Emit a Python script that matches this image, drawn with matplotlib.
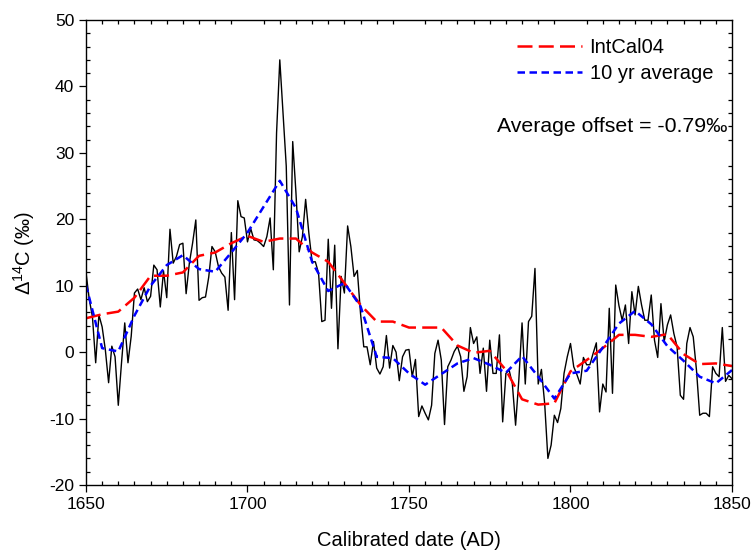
import numpy as np
import matplotlib
matplotlib.use('Agg')
import matplotlib.pyplot as plt
from matplotlib.ticker import MultipleLocator

plt.rcParams['font.family'] = ['Liberation Sans', 'DejaVu Sans']
plt.rcParams['mathtext.fontset'] = 'custom'
plt.rcParams['mathtext.rm'] = 'Liberation Sans'
plt.rcParams['mathtext.default'] = 'regular'
plt.rcParams['axes.unicode_minus'] = False

# annual measurements, 1650-1850
years = np.arange(1650, 1851)
d14c = [12, 8, 5.3, -1.6, 5.6, 3.8, 0.3, -4.6, 0.9, -0.7,
        -8.0, -1.6, 4.4, -1.6, 2.4, 8.9, 9.5, 7.9, 9.7, 7.6,
        8.4, 13.1, 12.4, 6.8, 12.2, 8.2, 18.5, 13.4, 14.4, 16.2,
        16.4, 8.8, 13.4, 16.4, 19.9, 7.8, 8.2, 8.3, 11.3, 15.9,
        15.1, 12.9, 11.9, 11.3, 6.3, 18.0, 7.9, 22.8, 20.4, 20.2,
        16.6, 18.6, 16.9, 16.8, 16.4, 15.9, 17.4, 20.2, 12.4, 33.0,
        44.0, 36.0, 28.0, 7.1, 31.7, 24.0, 15.1, 17.4, 23.0, 17.9,
        13.6, 13.6, 11.9, 4.6, 4.8, 17.0, 6.6, 16.1, 0.5, 11.4,
        8.9, 19.0, 15.9, 11.4, 12.3, 5.8, 0.8, 0.8, -1.9, 1.6,
        -2.4, -3.3, -2.2, 2.5, -2.4, 1.0, 0.0, -4.3, -0.7, 0.3,
        0.4, -3.7, -1.1, -9.7, -8.1, -9.2, -10.2, -8.0, -0.2, 1.8,
        -1.2, -10.9, -2.2, -1.2, 0.1, 0.9, -0.7, -5.9, -3.7, 3.7,
        1.3, 2.3, -3.2, 0.6, -5.9, 1.8, -3.2, -3.2, 2.6, -10.5,
        -3.2, -2.7, -4.8, -11.0, -4.2, 4.4, -4.8, 4.6, 5.4, 12.6,
        -4.8, -2.6, -7.7, -16.0, -14.0, -9.5, -10.6, -8.5, -3.2, -0.7,
        1.3, -2.2, -3.4, -4.8, -0.8, -1.9, -1.9, -0.2, 1.4, -9.0,
        -4.8, -6.0, 6.6, -6.2, 10.1, 7.0, 4.8, 7.1, 1.3, 9.1,
        5.6, 9.9, 7.1, 4.8, 4.8, 8.6, 1.8, -0.8, 7.3, 1.6,
        4.1, 5.6, 2.8, 0.8, -6.5, -7.1, 1.3, 3.7, 2.3, -2.7,
        -9.5, -9.2, -9.2, -9.7, -2.2, -3.2, -3.7, 3.7, -4.4, -3.5,
        -4.0]

# 5-yr grid for IntCal04 and the 10 yr average
years5 = np.arange(1650, 1851, 5)
intcal04 = [5.1, 5.7, 6.1, 8.2, 11.5, 11.5, 12.0, 14.5, 15.0, 16.4,
            17.5, 16.6, 17.1, 17.1, 15.0, 13.6, 10.4, 7.1, 4.6, 4.6,
            3.7, 3.7, 3.7, 1.0, -0.1, 0.2, -2.7, -7.1, -7.9, -7.7,
            -2.9, -1.2, 0.6, 2.6, 2.6, 2.3, 2.7, -0.3, -1.8, -1.7,
            -2.1]
avg10 = [10.1, 0.6, 0.1, 5.5, 10.0, 13.1, 14.6, 12.5, 12.1, 15.0,
         18.0, 21.9, 25.8, 21.7, 13.6, 9.2, 10.4, 6.9, -0.7, -0.9,
         -3.2, -4.9, -3.3, -1.7, -0.9, -1.9, -3.1, -0.6, -3.7, -7.0,
         -3.2, -2.8, 0.7, 4.3, 6.2, 4.2, 0.9, -1.3, -3.7, -4.7,
         -2.7]

fig = plt.figure(figsize=(7.51, 5.53), dpi=100)
ax = fig.add_axes([0.1145, 0.123, 0.8602, 0.8408])

ax.plot(years, d14c, color='black', lw=1.0)
ax.plot(years5, intcal04, color='red', lw=1.8, dashes=(6, 2.5), label='IntCal04')
ax.plot(years5, avg10, color='blue', lw=1.8, dashes=(3, 1.8), label='10 yr average')

ax.set_xlim(1650, 1850)
ax.set_ylim(-20, 50)
ax.xaxis.set_major_locator(MultipleLocator(50))
ax.xaxis.set_minor_locator(MultipleLocator(5))
ax.yaxis.set_major_locator(MultipleLocator(10))
ax.yaxis.set_minor_locator(MultipleLocator(2))
ax.tick_params(which='major', direction='out', length=5, width=0.9,
               labelsize=12.5, top=False, right=False)
ax.tick_params(which='minor', direction='in', length=3, width=0.9,
               top=True, right=True)
for s in ax.spines.values():
    s.set_linewidth(1.0)

ax.set_xlabel('Calibrated date (AD)', fontsize=14.5, labelpad=14)
ax.set_ylabel('Δ$^{14}$C (‰)', fontsize=14.5, labelpad=9)

ax.legend(loc='upper left', bbox_to_anchor=(0.6455, 0.991), frameon=False,
          fontsize=14.5, handlelength=3.2, handletextpad=0.4,
          labelspacing=0.35, borderpad=0.2)
ax.text(1848.5, 33.9, 'Average offset = -0.79‰', fontsize=15.3,
        ha='right', va='center')

fig.savefig('out.png', dpi=100)
